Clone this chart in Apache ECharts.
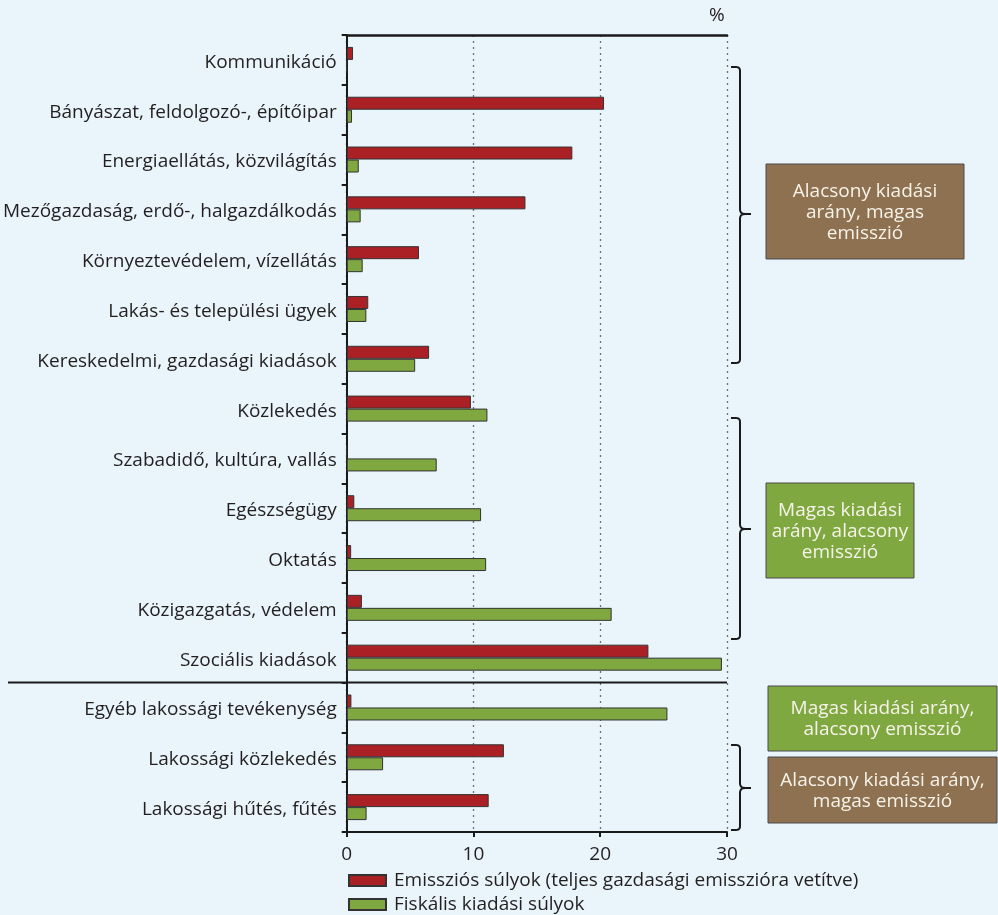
<!DOCTYPE html>
<html>
<head>
<meta charset="utf-8">
<script src="https://cdn.jsdelivr.net/npm/echarts@6/dist/echarts.min.js"></script>
<style>
html,body{margin:0;padding:0;background:#e9f4fb;}
#chart{width:998px;height:915px;}
</style>
</head>
<body>
<div id="chart"></div>
<script>
var categories = [
  'Kommunikáció',
  'Bányászat, feldolgozó-, építőipar',
  'Energiaellátás, közvilágítás',
  'Mezőgazdaság, erdő-, halgazdálkodás',
  'Környeztevédelem, vízellátás',
  'Lakás- és települési ügyek',
  'Kereskedelmi, gazdasági kiadások',
  'Közlekedés',
  'Szabadidő, kultúra, vallás',
  'Egészségügy',
  'Oktatás',
  'Közigazgatás, védelem',
  'Szociális kiadások',
  'Egyéb lakossági tevékenység',
  'Lakossági közlekedés',
  'Lakossági hűtés, fűtés'
];
var emissionWeights = [0.5, 20.3, 17.8, 14.1, 5.7, 1.7, 6.5, 9.8, 0, 0.6, 0.35, 1.2, 23.8, 0.37, 12.4, 11.2];
var fiscalWeights   = [0, 0.42, 0.95, 1.1, 1.26, 1.55, 5.4, 11.1, 7.1, 10.6, 11.0, 20.9, 29.6, 25.3, 2.87, 1.57];
var seriesNames = ['Emissziós súlyok (teljes gazdasági emisszióra vetítve)', 'Fiskális kiadási súlyok'];
var xTicks = [0, 10, 20, 30];
var unitLabel = '%';
var groupBoxes = [
  {text: 'Alacsony kiadási\narány, magas\nemisszió', kind: 'brown'},
  {text: 'Magas kiadási\narány, alacsony\nemisszió', kind: 'green'},
  {text: 'Magas kiadási arány,\nalacsony emisszió', kind: 'green'},
  {text: 'Alacsony kiadási arány,\nmagas emisszió', kind: 'brown'}
];

var FONT = 'Open Sans';
var FS = 19;
var RED = '#ab2024';
var GREEN = '#7fa840';
var BROWN = '#8e7150';
var TXT = '#231f20';

var chart = echarts.init(document.getElementById('chart'), null, {renderer: 'canvas'});

function quad(p0, p1, p2, out) {
  for (var i = 1; i <= 6; i++) {
    var t = i / 6, u = 1 - t;
    out.push([u * u * p0[0] + 2 * u * t * p1[0] + t * t * p2[0], u * u * p0[1] + 2 * u * t * p1[1] + t * t * p2[1]]);
  }
}
function bracketPoints(top, mid, bottom) {
  var x = 740, l = 731, r = 751, pts = [[l, top], [x - 4, top]];
  quad([x - 4, top], [x, top], [x, top + 4], pts);
  pts.push([x, mid - 5]);
  quad([x, mid - 5], [x, mid], [x + 5, mid], pts);
  pts.push([r, mid], [x + 5, mid]);
  quad([x + 5, mid], [x, mid], [x, mid + 5], pts);
  pts.push([x, bottom - 4]);
  quad([x, bottom - 4], [x, bottom], [x - 4, bottom], pts);
  pts.push([l, bottom]);
  return pts;
}

function box(id, x, y, w, h, b) {
  return {
    type: 'group', id: id, x: x, y: y,
    children: [
      {type: 'rect', shape: {x: 0, y: 0, width: w, height: h},
        style: {fill: b.kind === 'brown' ? BROWN : GREEN, stroke: '#4a4a4a', lineWidth: 1}},
      {type: 'text', x: w / 2, y: h / 2 + 1,
        style: {text: b.text, fill: '#f7f3ea', font: FS + 'px ' + FONT, align: 'center', verticalAlign: 'middle', lineHeight: 21}}
    ]
  };
}

function legendFor(i, top) {
  return {
    orient: 'horizontal', left: 348, top: top, padding: 0,
    itemWidth: 37, itemHeight: 11, itemGap: 8,
    icon: 'rect',
    textStyle: {fontSize: FS, color: TXT, fontFamily: FONT, padding: [0, 0, 0, 3]},
    data: [seriesNames[i]]
  };
}

var option = {
  backgroundColor: '#e9f4fb',
  animation: false,
  textStyle: {fontFamily: FONT},
  grid: {left: 346, right: 271, top: 35, bottom: 83, containLabel: false},
  legend: [legendFor(0, 871), legendFor(1, 895)],
  xAxis: [
    {
      type: 'value', position: 'bottom', min: xTicks[0], max: xTicks[xTicks.length - 1], interval: 10,
      axisLine: {show: true, lineStyle: {color: '#1a1a1a', width: 2}},
      axisTick: {show: true, length: 5, lineStyle: {color: '#1a1a1a', width: 2}},
      axisLabel: {fontSize: FS, color: TXT, margin: 13, fontFamily: FONT},
      splitLine: {show: true, lineStyle: {color: '#6f6f6f', width: 1.3, type: [2, 4]}}
    },
    {
      type: 'value', position: 'top', min: xTicks[0], max: xTicks[xTicks.length - 1], interval: 10,
      axisLine: {show: true, onZero: false, lineStyle: {color: '#1a1a1a', width: 2.5}},
      axisTick: {show: false}, axisLabel: {show: false}, splitLine: {show: false}
    }
  ],
  yAxis: {
    type: 'category', inverse: true, data: categories,
    axisLine: {show: true, onZero: false, lineStyle: {color: '#1a1a1a', width: 2}},
    axisTick: {show: true, length: 5, lineStyle: {color: '#1a1a1a', width: 2}},
    axisLabel: {fontSize: FS, color: TXT, margin: 10, fontFamily: FONT, verticalAlign: 'top', lineHeight: 5}
  },
  series: [
    {
      name: seriesNames[0], type: 'bar', data: emissionWeights, barWidth: 13, barGap: '0%',
      itemStyle: {color: RED, borderColor: '#333', borderWidth: 1}
    },
    {
      name: seriesNames[1], type: 'bar', data: fiscalWeights, barWidth: 13, barGap: '0%',
      itemStyle: {color: GREEN, borderColor: '#333', borderWidth: 1}
    }
  ],
  graphic: [
    {type: 'text', id: 'unit', x: 709, y: 6, style: {text: unitLabel, font: FS + 'px ' + FONT, fill: TXT}},
    {type: 'polyline', id: 'br1', shape: {points: bracketPoints(67, 214, 363)}, style: {fill: null, stroke: '#1a1a1a', lineWidth: 2}},
    {type: 'polyline', id: 'br2', shape: {points: bracketPoints(418, 529, 639)}, style: {fill: null, stroke: '#1a1a1a', lineWidth: 2}},
    {type: 'polyline', id: 'br3', shape: {points: bracketPoints(745, 788, 830)}, style: {fill: null, stroke: '#1a1a1a', lineWidth: 2}},
    box('box1', 766, 164, 198, 95, groupBoxes[0]),
    box('box2', 766, 483, 148, 95, groupBoxes[1]),
    box('box3', 768, 686, 229, 65, groupBoxes[2]),
    box('box4', 768, 757, 229, 66, groupBoxes[3])
  ]
};
chart.setOption(option);

// separator between the economy-wide and household categories, placed via axis scale
var yA = chart.convertToPixel({yAxisIndex: 0}, categories[12]);
var yB = chart.convertToPixel({yAxisIndex: 0}, categories[13]);
var sepY = (yA + yB) / 2;
var xEnd = chart.convertToPixel({xAxisIndex: 0}, xTicks[xTicks.length - 1]);
chart.setOption({
  graphic: [
    {type: 'line', id: 'sep', shape: {x1: 8, y1: sepY, x2: xEnd, y2: sepY}, style: {stroke: '#1a1a1a', lineWidth: 2}, z: 10}
  ]
});
</script>
</body>
</html>
